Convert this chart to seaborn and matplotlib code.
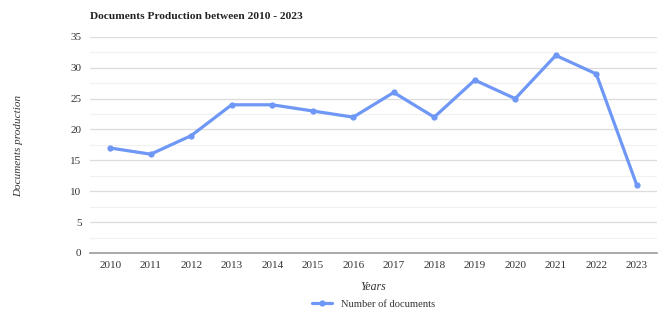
import matplotlib
matplotlib.use('Agg')
import matplotlib.pyplot as plt
import seaborn as sb
import pandas as pd
from matplotlib.ticker import MultipleLocator

# data
years = ["2010", "2011", "2012", "2013", "2014", "2015", "2016",
         "2017", "2018", "2019", "2020", "2021", "2022", "2023"]
documents = [17, 16, 19, 24, 24, 23, 22, 26, 22, 28, 25, 32, 29, 11]

df = pd.DataFrame({"Years": years, "Number of documents": documents})

sb.set_theme(style="white")
plt.rcParams['font.family'] = ['Liberation Serif', 'DejaVu Serif']

fig = plt.figure(figsize=(6.61, 3.10), dpi=100)
ax = fig.add_axes([0.136, 0.184, 0.858, 0.697])

sb.lineplot(
    data=df, x="Years", y="Number of documents", ax=ax,
    color="#6f97f6", linewidth=2.3, marker="o", markersize=4.5,
    markeredgewidth=0, label="Number of documents", legend=False
)

ax.set_xlim(-0.5, len(years) - 0.5)
ax.set_ylim(0, 35)
ax.yaxis.set_major_locator(MultipleLocator(5))
ax.yaxis.set_minor_locator(MultipleLocator(2.5))
ax.grid(which="major", axis="y", color="#dcdcdc", linewidth=0.9)
ax.grid(which="minor", axis="y", color="#f1f1f1", linewidth=0.9)
ax.set_axisbelow(True)
for s in ["top", "right", "left"]:
    ax.spines[s].set_visible(False)
ax.spines["bottom"].set_color("#9a9a9a")
ax.spines["bottom"].set_linewidth(1.2)
ax.tick_params(axis="both", which="both", length=0, labelsize=8, labelcolor="#333333", pad=6)

ax.set_xlabel("Years", fontsize=8.5, style="italic", color="#333333", labelpad=8)
ax.set_ylabel("")
fig.text(0.028, 0.53, "Documents production", rotation=90, fontsize=8,
         style="italic", color="#333333", ha="center", va="center")
fig.text(0.136, 0.948, "Documents Production between 2010 - 2023", fontsize=8.2,
         fontweight="bold", color="#222222", ha="left", va="center")

handles, labels = ax.get_legend_handles_labels()
fig.legend(handles, labels, loc="center", bbox_to_anchor=(0.565, 0.018),
           frameon=False, fontsize=7.6, handlelength=1.9, labelcolor="#333333")

fig.savefig("out.png", dpi=100)
